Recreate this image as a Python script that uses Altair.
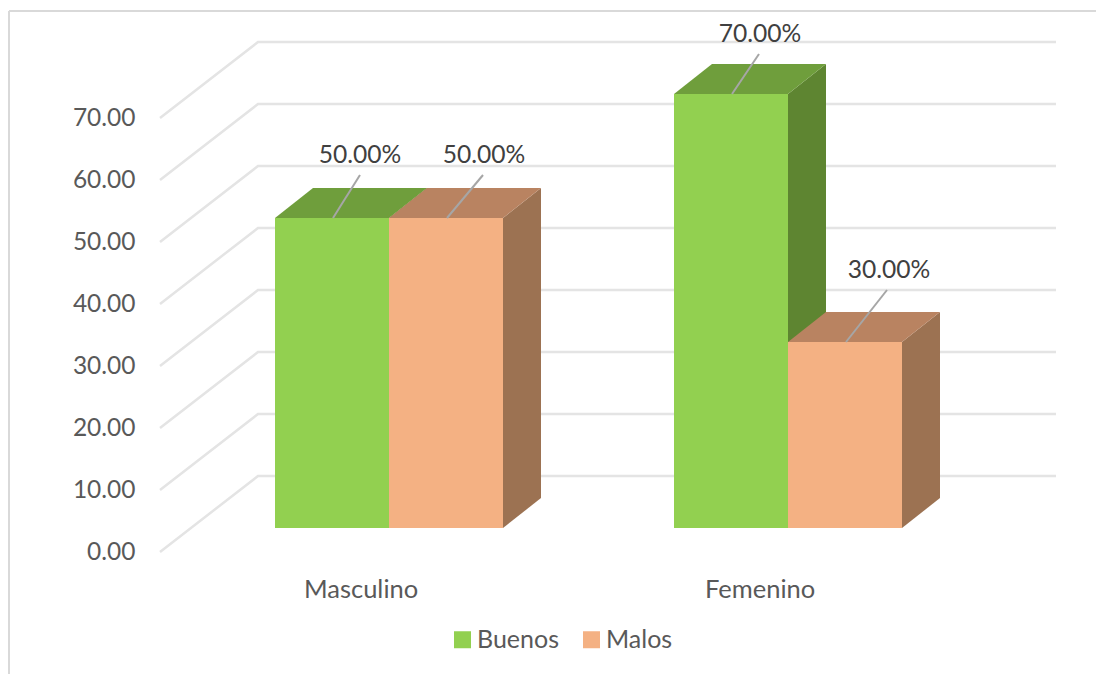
import altair as alt
import pandas as pd

# Chart values
categories = ["Masculino", "Femenino"]
series = ["Buenos", "Malos"]
buenos = [50.0, 70.0]
malos = [50.0, 30.0]
grid_values = [0, 10, 20, 30, 40, 50, 60, 70]
value_ticks = [0, 10, 20, 30, 40, 50, 60, 70]

# Oblique box geometry, in axis units (1 x unit = one bar width, y unit = value)
W, H = 1096, 674
PX_X = 114.0
PX_Y = 6.2
ORIGIN_X = 275
ORIGIN_Y = 552
x_domain = [-ORIGIN_X / PX_X, (W - ORIGIN_X) / PX_X]
y_domain = [(ORIGIN_Y - H) / PX_Y, ORIGIN_Y / PX_Y]

GROUP_STEP = 3.5
FLOOR_LEFT = -115 / PX_X
WALL_LEFT = -17 / PX_X
WALL_RIGHT = 781 / PX_X
WALL_LIFT = 76 / PX_Y
BAR_LIFT = 24 / PX_Y
DEPTH_X = 38 / PX_X
DEPTH_Y = 30 / PX_Y

# Leader line reach from each bar's top edge to its label: (x units, value units)
leader_reach = {
    ("Masculino", "Buenos"): (27 / PX_X, 43 / PX_Y),
    ("Masculino", "Malos"): (36 / PX_X, 43 / PX_Y),
    ("Femenino", "Buenos"): (27 / PX_X, 40 / PX_Y),
    ("Femenino", "Malos"): (41 / PX_X, 52 / PX_Y),
}
LABEL_GAP = 19 / PX_Y
LABEL_SHIFT = {
    ("Masculino", "Buenos"): 0 / PX_X,
    ("Masculino", "Malos"): 1 / PX_X,
    ("Femenino", "Buenos"): 1 / PX_X,
    ("Femenino", "Malos"): 2 / PX_X,
}

fronts, sides, tops, leaders, labels = [], [], [], [], []
for gi, cat in enumerate(categories):
    base = gi * GROUP_STEP
    for si, (name, vals) in enumerate(zip(series, [buenos, malos])):
        v = vals[gi]
        left, right = base + si, base + si + 1
        face = f"{cat}-{name}"
        bottom, top = BAR_LIFT, BAR_LIFT + v
        fronts.append(dict(series=name, x=left, x2=right, y=bottom, y2=top))
        sides += [
            dict(series=name, face=face, x=right, y=top, y2=bottom),
            dict(series=name, face=face, x=right + DEPTH_X, y=top + DEPTH_Y, y2=bottom + DEPTH_Y),
        ]
        tops += [
            dict(series=name, face=face, y=top, x=left, x2=right),
            dict(series=name, face=face, y=top + DEPTH_Y, x=left + DEPTH_X, x2=right + DEPTH_X),
        ]
        rx, ry = leader_reach[(cat, name)]
        mid = left + 0.5 + 1 / PX_X
        leaders.append(dict(x=mid, x2=mid + rx, y=top, y2=top + ry))
        labels.append(dict(
            x=mid + rx + LABEL_SHIFT[(cat, name)],
            y=top + ry + LABEL_GAP,
            text=f"{v:.2f}%",
        ))

grid_rows = []
for g in grid_values:
    grid_rows += [
        dict(level=g, step=0, x=FLOOR_LEFT, y=g),
        dict(level=g, step=1, x=WALL_LEFT, y=g + WALL_LIFT),
        dict(level=g, step=2, x=WALL_RIGHT, y=g + WALL_LIFT),
    ]

category_rows = [
    dict(x=i * GROUP_STEP + 0.755, y=-38 / PX_Y, text=c) for i, c in enumerate(categories)
]

X = alt.X("x:Q", scale=alt.Scale(domain=x_domain, nice=False, zero=False), axis=None)
# Every layer shares one y definition, so the value axis survives the layer merge
Y = alt.Y(
    "y:Q",
    scale=alt.Scale(domain=y_domain, nice=False, zero=False),
    axis=alt.Axis(
        values=value_ticks, format=".2f", title=None, domain=False, ticks=False, grid=False,
        offset=-140, labelPadding=5, labelFont="Lato", labelFontSize=24.5,
        labelColor="#595959", labelBaseline="middle", labelFlush=False, labelOverlap=False,
    ),
)


def shades(*colors):
    return alt.Scale(domain=series, range=list(colors))


frame_top = alt.Chart(pd.DataFrame({"a": [0]})).mark_rule(color="#D9D9D9", strokeWidth=2).encode(
    x=alt.value(9), x2=alt.value(W), y=alt.value(11)
)
frame_left = alt.Chart(pd.DataFrame({"a": [0]})).mark_rule(color="#D9D9D9", strokeWidth=2).encode(
    x=alt.value(9), y=alt.value(11), y2=alt.value(H)
)

grid = alt.Chart(pd.DataFrame(grid_rows)).mark_line(color="#E4E4E4", strokeWidth=2.5).encode(
    x=X, y=Y, detail="level:N", order="step:Q"
)

side_layer = alt.Chart(pd.DataFrame(sides)).mark_area(orient="vertical", opacity=1).encode(
    x=X, y=Y, y2="y2:Q", detail="face:N",
    color=alt.Color("series:N", scale=shades("#5E8531", "#9C7252"), legend=None),
)
top_layer = alt.Chart(pd.DataFrame(tops)).mark_area(orient="horizontal", opacity=1).encode(
    y=Y, x=X, x2="x2:Q", detail="face:N",
    color=alt.Color("series:N", scale=shades("#6F9E3C", "#B98361"), legend=None),
)
front_layer = alt.Chart(pd.DataFrame(fronts)).mark_rect().encode(
    x=X, x2="x2:Q", y=Y, y2="y2:Q",
    color=alt.Color(
        "series:N",
        scale=shades("#92D050", "#F4B183"),
        legend=alt.Legend(
            title=None, orient="none", legendX=450, legendY=627, direction="horizontal",
            symbolType="square", symbolSize=289, symbolStrokeWidth=0, symbolOpacity=1,
            labelFont="Lato", labelFontSize=25, labelColor="#595959",
            labelOffset=2, columnPadding=20, padding=0,
        ),
    ),
)
leader_layer = alt.Chart(pd.DataFrame(leaders)).mark_rule(color="#A6A6A6", strokeWidth=2).encode(
    x=X, x2="x2:Q", y=Y, y2="y2:Q"
)
label_layer = alt.Chart(pd.DataFrame(labels)).mark_text(
    font="Lato", fontSize=24.6, color="#404040", baseline="middle", align="center"
).encode(x=X, y=Y, text="text:N")
category_layer = alt.Chart(pd.DataFrame(category_rows)).mark_text(
    font="Lato", fontSize=25.5, color="#595959", baseline="middle", align="center"
).encode(x=X, y=Y, text="text:N")

chart = (
    alt.layer(
        frame_top, frame_left, grid, side_layer, top_layer, front_layer,
        leader_layer, label_layer, category_layer,
    )
    .resolve_scale(color="independent")
    .properties(width=W, height=H, padding=0, background="white",
                autosize=alt.AutoSizeParams(type="none"))
    .configure_view(stroke=None)
)

chart.save("out.html", embed_options={"renderer": "svg", "actions": False})
